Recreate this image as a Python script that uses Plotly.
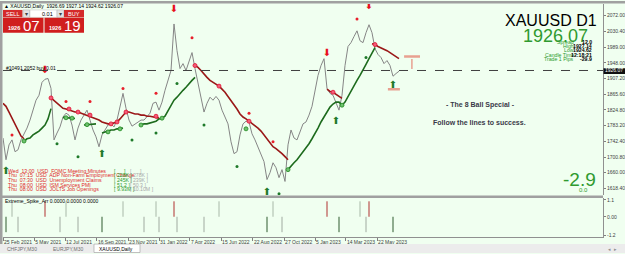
import plotly.graph_objects as go

W, H = 625, 254
def X(px): return px / W
def Y(py): return 1 - py / H

# ---------------- data ----------------
price = [1751,1694,1733,1746,1715,1720,1746,1762,1777,1798,
         1824,1850,1863,1897,1905,1907,1881,1746,1764,1780,
         1806,1816,1811,1785,1746,1777,1798,1811,1824,1798,
         1772,1754,1728,1759,1772,1785,1788,1780,1798,1834,
         1868,1829,1798,1782,1788,1793,1798,1798,1806,1816,
         1842,1845,1824,1845,1876,1902,1928,2050,1980,1933,
         1946,1928,1949,1975,1933,1894,1863,1819,1842,1858,
         1850,1860,1850,1824,1806,1788,1741,1710,1715,1759,
         1788,1795,1793,1762,1746,1728,1707,1689,1642,1660,
         1686,1673,1647,1668,1637,1733,1772,1751,1746,1767,
         1788,1793,1811,1834,1876,1915,1941,1959,1881,1868,
         1863,1845,1824,1863,1941,1991,2001,2017,2032,2006,
         2001,2027,2048,2027,1985,1970,1962,1946,1954,1941,
         1913,1920,1926.07]

red_ma = ([1842,1834,1819,1803,1785,1769,1756,1749] + [None]*8 +
          [1856,1849,1842,1834,1829,1827,1824,1821,1819,1819,1816,1814,1811,1808,1806,1803,
           1798,1793,1790,1788,1788,1790,1793,1801,1811,1819,1819,1816,1814,1814,1811,1811,
           1808,1808,1806,1806,1803] + [None]*11 +
          [1941,1936,1928,1918,1910,1902,1897,1892,1887,1879,1871,1860,1850,1840,1827,1814,
           1806,1801,1795,1790,1782,1777,1769,1759,1746,1736,1728,1723,1717,1710,1702,1694] +
          [None]*12 + [1879,1873,1871,1866,1860,1855] + [None]*9 +
          [1998,1996,1991,1988,1985,1980,1975,1970,1965,1959])

green_ma = ([None]*7 + [1743,1749,1751,1759,1764,1769,1777,1785,1801,1828] + [None]*3 +
            [1805,1804,1803,1803,1802] + [None]*2 + [1785,1786,1787,1788,1788] + [None] +
            [1764,1767,1769,1772,1772,1775,1775,1777] + [None]*5 +
            [1785,1788,1788,1790,1793,1795,1801,1803,1808,1822,1838,1850,1858,1868,1876,
             1884,1894,1902,1910] + [None]*30 +
            [1668,1678,1686,1694,1704,1715,1725,1736,1749,1762,1777,1793,1806,1819,1832,
             1840,1845,1845,1837,1845,1860,1873,1887,1902,1915,1928,1944,1959,1975,1988] +
            [None]*8)

red_circle_bar = [16, 22, 25, 29, 36, 38, 41, 51, 64, 72, 82, 110, 124]
red_circle_val = [1856, 1827, 1819, 1811, 1788, 1793, 1819, 1808, 1941, 1887, 1795, 1871, 1996]
green_circle_bar = [7, 21, 23, 28, 35, 39, 46, 53, 81, 95, 113]
green_circle_val = [1743, 1804, 1803, 1786, 1767, 1775, 1785, 1803, 1775, 1668, 1837]
red_dot_bar = [3, 21, 29, 40, 51, 63, 82, 90, 118]
red_dot_val = [1759, 1847, 1847, 1881, 1868, 2014, 1816, 1741, 2063]
green_dot_bar = [18, 25, 43, 51, 58, 67, 78, 92, 121]
green_dot_val = [1736, 1702, 1746, 1764, 1894, 1785, 1676, 1605, 1962]
red_arrow_bar = [14, 57, 108, 122]
red_arrow_val = [1928, 2089, 1972, 2097]
green_arrow_bar = [1, 33, 88, 111, 130]
green_arrow_val = [1663, 1707, 1608, 1793, 1889]

spike_up_gray = [3, 21, 40, 51, 72, 90, 119]
spike_up_red = [14, 57, 108, 122]
spike_dn_gray = [5, 19, 25, 47, 52, 58, 67, 93, 121]
spike_dn_dark = [1, 33, 88, 112, 130]

order_price = 1928.0
price_ticks = [2072.00, 2030.40, 1989.00, 1948.00, 1907.20, 1865.60, 1824.80,
               1783.20, 1742.40, 1700.80, 1660.00, 1618.40]
date_tick_bars = [0, 10.4, 20.7, 31.3, 41.7, 52.0, 62.3, 72.7, 83.3, 93.7, 104.0, 114.3, 124.7]
date_labels = ["25 Feb 2021", "5 May 2021", "12 Jul 2021", "16 Sep 2021", "23 Nov 2021",
               "31 Jan 2022", "7 Apr 2022", "15 Jun 2022", "22 Aug 2022", "27 Oct 2022",
               "5 Jan 2023", "14 Mar 2023", "22 May 2023"]

news_rows = ["Wed  13:00  USD  FOMC Meeting Minutes",
             "Thu  07:15  USD  ADP Non-Farm Employment Change",
             "Thu  07:30  USD  Unemployment Claims",
             "Thu  08:00  USD  ISM Services PMI",
             "Thu  08:00  USD  JOLTS Job Openings"]
news_forecast = ["[      ]", "[ 228K ]", "[ 245K ]", "[ 51.2 ]", "[ 9.93M ]"]
news_previous = ["[      ]", "[ 278K ]", "[ 239K ]", "[ 50.3 ]", "[ 10.10M ]"]

info_labels = ["Spread", "High", "Low", "Candle Time", "Trade 1 Pips"]
info_values = ["12.0", "1927.14", "1924.62", "12:18:21", "-29.9"]

FONT = "Liberation Sans, Arial, sans-serif"
BG = "#f0fff0"

fig = go.Figure()
bars = list(range(len(price)))

fig.add_trace(go.Scatter(x=bars, y=price, mode="lines",
                         line=dict(color="#858585", width=1), hoverinfo="skip"))
fig.add_trace(go.Scatter(x=bars, y=red_ma, mode="lines", connectgaps=False,
                         line=dict(color="#9a1818", width=1.6), hoverinfo="skip"))
fig.add_trace(go.Scatter(x=bars, y=green_ma, mode="lines", connectgaps=False,
                         line=dict(color="#1d6b1d", width=1.6), hoverinfo="skip"))

fig.add_trace(go.Scatter(x=red_circle_bar, y=red_circle_val, mode="markers",
                         marker=dict(symbol="circle", size=4, color="#f25c78",
                                     line=dict(color="#e01030", width=0.8))))
fig.add_trace(go.Scatter(x=green_circle_bar, y=green_circle_val, mode="markers",
                         marker=dict(symbol="circle", size=4, color="#6fc06f",
                                     line=dict(color="#1f8a1f", width=0.8))))
fig.add_trace(go.Scatter(x=red_dot_bar, y=red_dot_val, mode="markers",
                         marker=dict(symbol="circle", size=3, color="#e8202c")))
fig.add_trace(go.Scatter(x=green_dot_bar, y=green_dot_val, mode="markers",
                         marker=dict(symbol="circle", size=3, color="#1f7a2a")))
fig.add_trace(go.Scatter(x=red_arrow_bar, y=red_arrow_val, mode="text", text=["⬇"]*len(red_arrow_bar),
                         textfont=dict(size=10, color="#e8101c", family="DejaVu Sans")))
fig.add_trace(go.Scatter(x=green_arrow_bar, y=green_arrow_val, mode="text", text=["⬆"]*len(green_arrow_bar),
                         textfont=dict(size=10, color="#1f7a2a", family="DejaVu Sans")))

def spikes(bar_list, top):
    xs, ys = [], []
    for b in bar_list:
        xs += [b, b, None]
        ys += [0, top, None]
    return xs, ys

for blist, top, col in [(spike_up_gray, 1.0, "#a8b8a8"), (spike_up_red, 1.0, "#b03030"),
                        (spike_dn_gray, -1.0, "#a0aaa0"), (spike_dn_dark, -1.0, "#2f5a2f")]:
    xs, ys = spikes(blist, top)
    fig.add_trace(go.Scatter(x=xs, y=ys, mode="lines", line=dict(color=col, width=1),
                             xaxis="x2", yaxis="y2", hoverinfo="skip"))

# trade marks near the last bars
fig.add_trace(go.Scatter(x=[133.7, 139.0], y=[1965, 1965], mode="lines",
                         line=dict(color="#e8a090", width=2.5), hoverinfo="skip"))
fig.add_trace(go.Scatter(x=[136.3, 136.3], y=[1958, 1932], mode="lines",
                         line=dict(color="#e8a090", width=1.5), hoverinfo="skip"))
fig.add_trace(go.Scatter(x=[128.3, 132.3], y=[1879, 1879], mode="lines",
                         line=dict(color="#e8a090", width=2.5), hoverinfo="skip"))

shapes = []
def rect(x0, y0, x1, y1, fill, line=None, lw=0):
    shapes.append(dict(type="rect", xref="paper", yref="paper",
                       x0=X(x0), x1=X(x1), y0=Y(y1), y1=Y(y0),
                       fillcolor=fill, line=dict(color=line or fill, width=lw), layer="above"))

# frame
rect(0, 0, 625, 2.5, "#a0a0a0")
rect(0, 0, 2.5, 246, "#a0a0a0")
rect(0, 196, 603, 198.5, "#a0a0a0")
rect(0, 245, 625, 254, "#ececec")
rect(94, 245, 140, 253.5, "#ffffff", "#9a9a9a", 0.6)
# one-click panel
rect(3, 9, 22.5, 16.5, "#d42a2a")
rect(23, 9, 29.5, 16.5, "#e4e4e4", "#b0b0b0", 0.5)
rect(30, 9, 57, 16.5, "#ffffff", "#c0c0c0", 0.5)
rect(57, 9, 63.5, 16.5, "#e4e4e4", "#b0b0b0", 0.5)
rect(64, 9, 84, 16.5, "#d42a2a")
rect(3, 17, 43.5, 32, "#d01e1e")
rect(44.5, 17, 84, 32, "#d01e1e")
# current price box on the axis
shapes.append(dict(type="rect", xref="paper", yref="y", x0=X(603.5), x1=X(625),
                   y0=price[-1] - 7.5, y1=price[-1] + 7.5, fillcolor="#101010",
                   line=dict(width=0), layer="above"))
# order line
shapes.append(dict(type="line", xref="paper", yref="y", x0=X(3), x1=X(603),
                   y0=order_price, y1=order_price, line=dict(color="#404040", width=1, dash="dash")))

ann = []
def txt(x, y, s, size, color="#000000", anchor="left", bold=False, family=FONT, yanchor="middle"):
    if bold:
        s = "<b>" + s + "</b>"
    ann.append(dict(x=X(x), y=Y(y), xref="paper", yref="paper", text=s, showarrow=False,
                    xanchor=anchor, yanchor=yanchor, borderpad=0,
                    font=dict(size=size, color=color, family=family)))

txt(3, 5, "▲ XAUUSD,Daily  1926.69 1927.14 1924.62 1926.07", 5)
txt(12.5, 12.8, "SELL", 5.5, "#ffffff", "center")
txt(26.2, 12.8, "▾", 6, "#404040", "center")
txt(48, 12.8, "0.01", 5.5, "#000000", "center")
txt(60.2, 12.8, "▾", 6, "#404040", "center")
txt(74, 12.8, "BUY", 5.5, "#ffffff", "center")
txt(20.5, 27.5, "1926", 5.5, "#ffffff", "right", bold=True)
txt(21.5, 25, "07", 15, "#ffffff", "left")
txt(61.5, 27.5, "1926", 5.5, "#ffffff", "right", bold=True)
txt(62.5, 25, "19", 15, "#ffffff", "left")

txt(598, 19.5, "XAUUSD D1", 16, "#000000", "right")
txt(589, 35, "1926.07", 18, "#2f9a2f", "right")
for k, (lab, val) in enumerate(zip(info_labels, info_values)):
    yy = 41 + 4.4 * k
    txt(575, yy, lab, 5.2, "#2f9a2f", "right")
    txt(593, yy, val, 5.2, "#000000", "right", bold=True)

txt(480, 105, "- The 8 Ball Special -", 7, "#3a3a48", "center", bold=True)
txt(479, 122, "Follow the lines to success.", 7, "#3a3a48", "center", bold=True)
txt(597, 180, "-2.9", 19, "#2f9a2f", "right")
txt(583, 191, "0.0", 6, "#2f9a2f", "center")

txt(5, 67.5, "#10491 2052 buy 0.01", 5, "#000000")
for k, row in enumerate(news_rows):
    yy = 171 + 4.7 * k
    txt(7, yy, row, 5.2, "#e02828")
    txt(113, yy, news_forecast[k], 5.2, "#2f9a2f")
    txt(129, yy, news_previous[k], 5.2, "#a8a8a8")

txt(614, 70, "1926.07", 5, "#ffffff", "center")
txt(4, 202, "Extreme_Spike_Arr 0.0000 0.0000 0.0000", 5)
txt(6, 250, "CHFJPY,M30", 5, "#707070")
txt(52, 250, "EURJPY,M30", 5, "#707070")
txt(98, 250, "XAUUSD,Daily", 5, "#000000")
txt(612, 250, "◂  ▸", 5, "#909090", "center")

fig.update_layout(
    width=W, height=H, margin=dict(l=0, r=0, t=0, b=0),
    paper_bgcolor=BG, plot_bgcolor=BG, showlegend=False,
    shapes=shapes, annotations=ann,
    xaxis=dict(domain=[X(3), X(603)], range=[0, 200], showgrid=False, zeroline=False,
               showticklabels=False, ticks="", anchor="y", fixedrange=True),
    yaxis=dict(domain=[Y(196), Y(3)], range=[1600.3, 2102.4], side="right",
               tickvals=price_ticks, ticktext=[f"{v:.2f}" for v in price_ticks],
               tickfont=dict(size=5, color="#404040", family=FONT),
               ticks="outside", ticklen=2, tickcolor="#808080",
               showline=True, linecolor="#909090", linewidth=1,
               showgrid=False, zeroline=False, anchor="x"),
    xaxis2=dict(domain=[X(3), X(603)], range=[0, 200], matches="x", anchor="y2",
                tickvals=date_tick_bars, ticktext=date_labels, ticklabelposition="outside right",
                tickangle=0, tickfont=dict(size=5, color="#404040", family=FONT),
                ticks="outside", ticklen=3, tickcolor="#808080",
                showline=True, linecolor="#909090", linewidth=1,
                showgrid=False, zeroline=False),
    yaxis2=dict(domain=[Y(238), Y(198.5)], range=[-1.32, 1.22], side="right",
                tickvals=[1.1, 0, -1.2], ticktext=["1.1", "0.00", "-1.2"],
                tickfont=dict(size=5, color="#404040", family=FONT),
                ticks="outside", ticklen=2, tickcolor="#808080",
                showline=True, linecolor="#909090", linewidth=1,
                showgrid=False, zeroline=False, anchor="x2"),
)

fig.write_html("out.html")
